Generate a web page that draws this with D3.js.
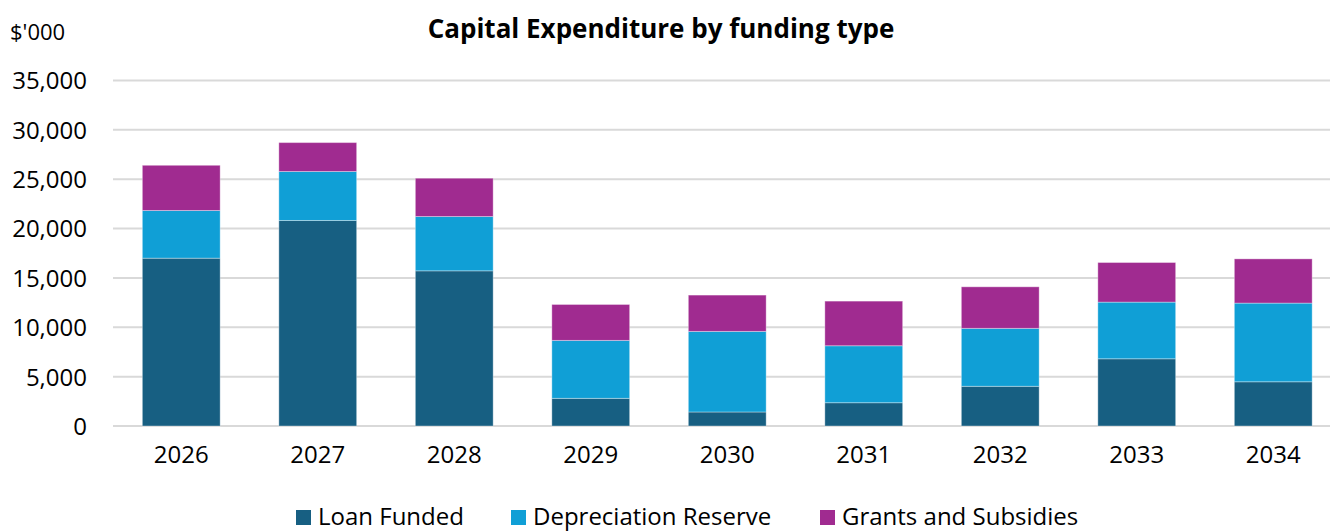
<!DOCTYPE html>
<html>
<head>
<meta charset="utf-8">
<script src="https://cdn.jsdelivr.net/npm/d3@7"></script>
<style>
  html, body { margin: 0; padding: 0; background: #fff; }
  svg { display: block; }
  text { font-family: "Open Sans", "Liberation Sans", sans-serif; fill: #000; }
</style>
</head>
<body>
<svg id="chart" width="1330" height="532"></svg>
<script>
// Capital expenditure by funding type, $'000
const years = ["2026", "2027", "2028", "2029", "2030", "2031", "2032", "2033", "2034"];
const loanFunded = [17000, 20820, 15720, 2800, 1420, 2360, 4020, 6810, 4480];
const depreciationReserve = [4830, 4960, 5500, 5870, 8160, 5770, 5870, 5740, 7970];
const grantsSubsidies = [4580, 2930, 3880, 3640, 3680, 4520, 4210, 4010, 4480];
const yTicks = [0, 5000, 10000, 15000, 20000, 25000, 30000, 35000];

const seriesNames = ["Loan Funded", "Depreciation Reserve", "Grants and Subsidies"];
const seriesColors = ["#175F82", "#109FD6", "#A02B90"];

const rows = years.map((y, i) => ({
  year: y,
  "Loan Funded": loanFunded[i],
  "Depreciation Reserve": depreciationReserve[i],
  "Grants and Subsidies": grantsSubsidies[i]
}));
const stacked = d3.stack().keys(seriesNames)(rows);

const svg = d3.select("#chart");
const plot = { left: 113, right: 1341.5, top: 80.5, bottom: 426 };

const x = d3.scaleBand().domain(years).range([plot.left, plot.right]).paddingInner(0.43).paddingOuter(0.215);
const y = d3.scaleLinear().domain([0, 35000]).range([plot.bottom, plot.top]);

// gridlines
svg.append("g")
  .selectAll("line")
  .data(yTicks)
  .join("line")
  .attr("x1", plot.left)
  .attr("x2", 1330)
  .attr("y1", d => y(d))
  .attr("y2", d => y(d))
  .attr("stroke", "#D9D9D9")
  .attr("stroke-width", 2);

// y axis labels
const yAxis = d3.axisLeft(y).tickValues(yTicks).tickSize(0).tickPadding(0)
  .tickFormat(d3.format(","));
svg.append("g")
  .attr("transform", `translate(87,0)`)
  .call(yAxis)
  .call(g => g.select(".domain").remove())
  .selectAll("text")
  .attr("font-size", 24)
  .attr("font-family", "'Open Sans', sans-serif")
  .attr("fill", "#000")
  .attr("dy", "0.35em");

// x axis labels
const xAxis = d3.axisBottom(x).tickSize(0).tickPadding(0);
svg.append("g")
  .attr("transform", `translate(0,${plot.bottom + 20})`)
  .call(xAxis)
  .call(g => g.select(".domain").remove())
  .selectAll("text")
  .attr("font-size", 24)
  .attr("font-family", "'Open Sans', sans-serif")
  .attr("fill", "#000")
  .attr("dy", "0.71em");

// stacked bars
svg.append("g")
  .selectAll("g")
  .data(stacked)
  .join("g")
  .attr("fill", (d, i) => seriesColors[i])
  .selectAll("rect")
  .data(d => d)
  .join("rect")
  .attr("x", d => x(d.data.year))
  .attr("width", x.bandwidth())
  .attr("y", d => y(d[1]))
  .attr("height", d => y(d[0]) - y(d[1]))
  .attr("stroke", "rgba(255,255,255,0.35)")
  .attr("stroke-width", 1);

// title
svg.append("text")
  .attr("x", 661)
  .attr("y", 38)
  .attr("text-anchor", "middle")
  .attr("font-size", 26)
  .attr("font-weight", "bold")
  .text("Capital Expenditure by funding type");

// unit label
svg.append("text")
  .attr("x", 10)
  .attr("y", 40)
  .attr("font-size", 22)
  .text("$'000");

// legend
const legendX = [296, 511, 820];
const legend = svg.append("g");
seriesNames.forEach((name, i) => {
  legend.append("rect")
    .attr("x", legendX[i])
    .attr("y", 510)
    .attr("width", 15)
    .attr("height", 15)
    .attr("fill", seriesColors[i]);
  legend.append("text")
    .attr("x", legendX[i] + 22)
    .attr("y", 525)
    .attr("font-size", 24)
    .text(name);
});
</script>
</body>
</html>
